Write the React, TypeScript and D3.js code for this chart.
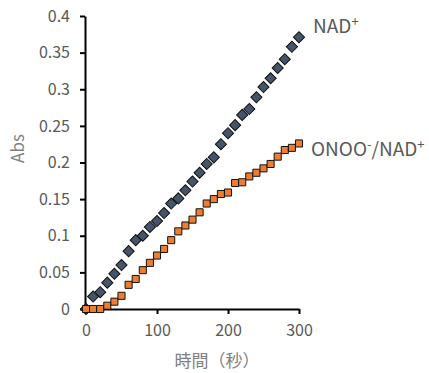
import React, { useEffect, useRef } from 'react';
import * as d3 from 'd3';

const times = [0, 10, 20, 30, 40, 50, 60, 70, 80, 90, 100, 110, 120, 130, 140, 150, 160, 170, 180, 190, 200, 210, 220, 230, 240, 250, 260, 270, 280, 290, 300];
const nadValues = [0, 0.017, 0.023, 0.036, 0.048, 0.060, 0.079, 0.094, 0.100, 0.112, 0.120, 0.131, 0.144, 0.151, 0.162, 0.174, 0.186, 0.198, 0.207, 0.225, 0.240, 0.251, 0.265, 0.273, 0.289, 0.303, 0.315, 0.329, 0.341, 0.358, 0.371];
const onooValues = [0, 0, 0, 0.0045, 0.010, 0.018, 0.033, 0.041, 0.053, 0.063, 0.073, 0.082, 0.094, 0.106, 0.114, 0.122, 0.132, 0.144, 0.150, 0.157, 0.159, 0.172, 0.173, 0.181, 0.186, 0.192, 0.198, 0.208, 0.217, 0.220, 0.226];
const yTicks = [0, 0.05, 0.1, 0.15, 0.2, 0.25, 0.3, 0.35, 0.4];
const xTicks = [0, 100, 200, 300];

const W = 429;
const H = 373;
const margin = { top: 16, right: 130, bottom: 64, left: 85 };
const FONT = "'Noto Sans CJK JP', 'Noto Sans', sans-serif";

const App = () => {
  const ref = useRef<SVGSVGElement>(null);

  useEffect(() => {
    const svg = d3.select(ref.current);
    svg.selectAll('*').remove();

    const x = d3.scaleLinear().domain([0, 300]).range([margin.left + 1, W - margin.right]);
    const y = d3.scaleLinear().domain([0, 0.4]).range([H - margin.bottom, margin.top]);

    // y axis
    const yAxis = svg.append('g')
      .attr('transform', `translate(${margin.left},0)`)
      .call(d3.axisLeft(y).tickValues(yTicks).tickSize(5).tickSizeOuter(0).tickPadding(10)
        .tickFormat(d => String(+(+d).toFixed(2))));
    yAxis.selectAll('text').style('font-size', '16px').style('font-family', FONT).attr('fill', '#595959');

    // x axis
    const xAxis = svg.append('g')
      .attr('transform', `translate(0,${H - margin.bottom})`)
      .call(d3.axisBottom(x).tickValues(xTicks).tickSize(5).tickSizeOuter(0).tickPadding(11));
    xAxis.selectAll('text').style('font-size', '16px').style('font-family', FONT).attr('fill', '#595959');

    svg.selectAll('.domain, .tick line').attr('stroke', '#000').attr('stroke-width', 2);

    // NAD+ series (diamonds)
    const diamond = d3.symbol().type(d3.symbolSquare).size(62);
    svg.append('g').selectAll('path')
      .data(times.map((t, i) => [t, nadValues[i]]))
      .join('path')
      .attr('d', diamond)
      .attr('transform', d => `translate(${x(d[0])},${y(d[1])}) rotate(45)`)
      .attr('fill', '#44546A')
      .attr('stroke', '#111')
      .attr('stroke-width', 1);

    // ONOO-/NAD+ series (squares)
    const square = d3.symbol().type(d3.symbolSquare).size(50);
    svg.append('g').selectAll('path')
      .data(times.map((t, i) => [t, onooValues[i]]))
      .join('path')
      .attr('d', square)
      .attr('transform', d => `translate(${x(d[0])},${y(d[1])})`)
      .attr('fill', '#ED7D31')
      .attr('stroke', '#111')
      .attr('stroke-width', 1);

    // axis titles
    svg.append('text')
      .attr('transform', `translate(24,${(y(0) + y(0.4)) / 2 - 14}) rotate(-90)`)
      .attr('text-anchor', 'middle')
      .style('font-size', '17px')
      .style('font-family', FONT)
      .attr('fill', '#808080')
      .text('Abs');

    svg.append('text')
      .attr('x', 217)
      .attr('y', 367)
      .attr('text-anchor', 'middle')
      .style('font-size', '17px')
      .style('font-family', FONT)
      .attr('fill', '#808080')
      .text('時間（秒）');

    // series labels
    const lab1 = svg.append('text')
      .attr('x', 313).attr('y', 33)
      .style('font-size', '19px').style('font-family', FONT).attr('fill', '#595959');
    lab1.append('tspan').text('NAD');
    lab1.append('tspan').attr('dy', -7).style('font-size', '13px').text('+');

    const lab2 = svg.append('text')
      .attr('x', 311).attr('y', 156)
      .style('font-size', '19px').style('font-family', FONT).attr('fill', '#595959');
    lab2.append('tspan').text('ONOO');
    lab2.append('tspan').attr('dy', -7).style('font-size', '13px').text('-');
    lab2.append('tspan').attr('dy', 7).text('/NAD');
    lab2.append('tspan').attr('dy', -7).style('font-size', '13px').text('+');
  }, []);

  return (
    <svg ref={ref} width={W} height={H} style={{ position: 'absolute', left: 0, top: 0, background: '#fff' }} />
  );
};

export default App;
